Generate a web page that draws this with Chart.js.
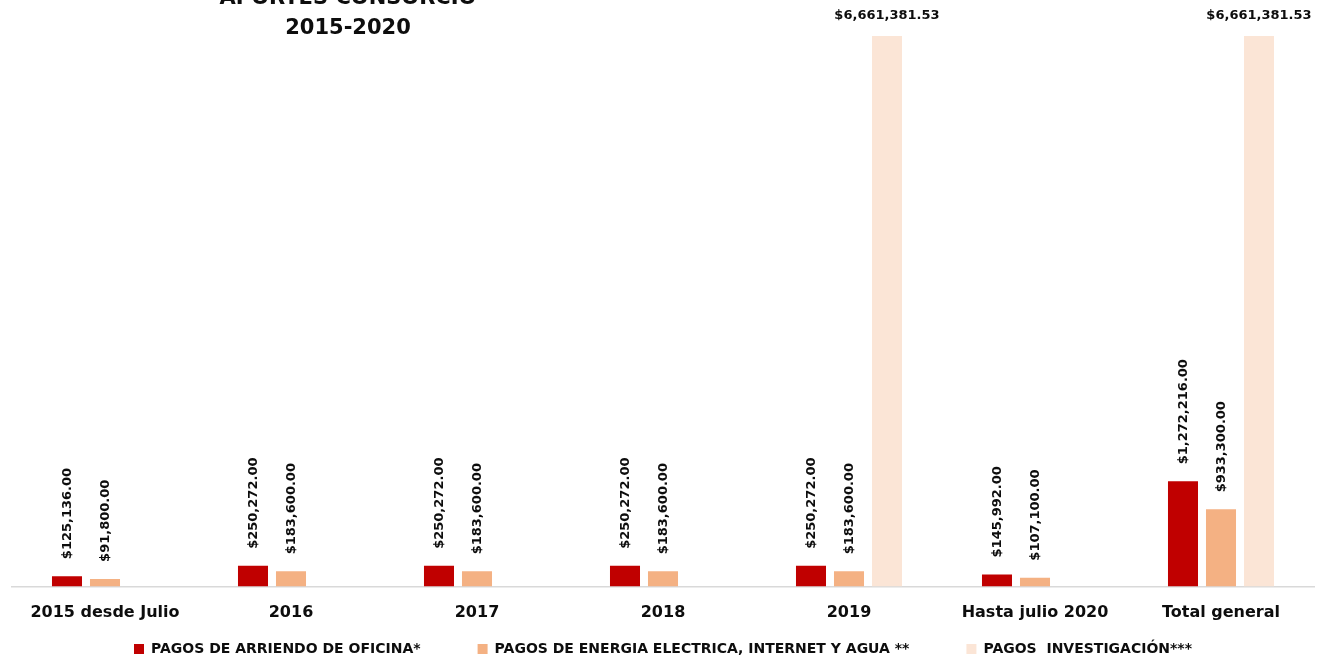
<!DOCTYPE html>
<html>
<head>
<meta charset="utf-8">
<script src="https://cdn.jsdelivr.net/npm/chart.js@4"></script>
<style>
  html, body { margin: 0; padding: 0; background: #ffffff; }
  #wrap { width: 1319px; height: 659px; position: relative; }
</style>
</head>
<body>
<div id="wrap"><canvas id="c"></canvas></div>
<script>
// Contributions of the consortium, 2015-2020
const categories = ['2015 desde Julio', '2016', '2017', '2018', '2019', 'Hasta julio 2020', 'Total general'];
const arriendo   = [125136, 250272, 250272, 250272, 250272, 145992, 1272216];
const servicios  = [91800, 183600, 183600, 183600, 183600, 107100, 933300];
const investigacion = [null, null, null, null, 6661381.53, null, 6661381.53];
const seriesNames = [
  'PAGOS DE ARRIENDO DE OFICINA*',
  'PAGOS DE ENERGIA ELECTRICA, INTERNET Y AGUA **',
  'PAGOS  INVESTIGACIÓN***'
];
const titleLines = ['APORTES CONSORCIO', '2015-2020'];

const FONT = '"DejaVu Sans", sans-serif';
const LEGEND_GAP = 57;

function money(v) {
  return '$' + v.toLocaleString('en-US', { minimumFractionDigits: 2, maximumFractionDigits: 2 });
}

// Value labels: vertical for the first two series, horizontal for the third
const valueLabels = {
  id: 'valueLabels',
  afterDatasetsDraw(chart) {
    const ctx = chart.ctx;
    ctx.save();
    ctx.fillStyle = '#0d0d0d';
    ctx.font = 'bold 13px ' + FONT;
    chart.data.datasets.forEach((ds, di) => {
      const meta = chart.getDatasetMeta(di);
      meta.data.forEach((bar, i) => {
        const v = ds.data[i];
        if (v === null || v === undefined) return;
        const txt = money(v);
        if (di < 2) {
          ctx.save();
          ctx.translate(bar.x + 1, bar.y - 17);
          ctx.rotate(-Math.PI / 2);
          ctx.textAlign = 'left';
          ctx.textBaseline = 'middle';
          ctx.fillText(txt, 0, 0);
          ctx.restore();
        } else {
          ctx.textAlign = 'center';
          ctx.textBaseline = 'middle';
          ctx.fillText(txt, bar.x, bar.y - 20);
        }
      });
    });
    ctx.restore();
  }
};

// Chart heading in the upper left
const heading = {
  id: 'heading',
  afterDraw(chart) {
    const ctx = chart.ctx;
    ctx.save();
    ctx.fillStyle = '#0d0d0d';
    ctx.font = 'bold 21px ' + FONT;
    ctx.textAlign = 'center';
    ctx.textBaseline = 'middle';
    ctx.fillText(titleLines[0], 348, -1);
    ctx.fillText(titleLines[1], 348, 29);
    ctx.restore();
  }
};

// The legend keeps wide horizontal spacing; pull its row up so it sits just under the axis labels
const legendRow = {
  id: 'legendRow',
  afterLayout(chart) {
    const lg = chart.legend;
    if (!lg) return;
    const fontSize = 14;
    const rowCenter = 649;
    lg.top = rowCenter - fontSize / 2 - LEGEND_GAP;
    lg.bottom = chart.height;
    lg.height = lg.bottom - lg.top;
  }
};

new Chart(document.getElementById('c'), {
  type: 'bar',
  data: {
    labels: categories,
    datasets: [
      { label: seriesNames[0], data: arriendo, backgroundColor: '#C00000' },
      { label: seriesNames[1], data: servicios, backgroundColor: '#F4B183' },
      { label: seriesNames[2], data: investigacion, backgroundColor: '#FBE5D6' }
    ]
  },
  options: {
    responsive: true,
    maintainAspectRatio: false,
    animation: false,
    layout: { padding: { top: 36, left: 12, right: 5, bottom: 0.5 } },
    datasets: {
      bar: { categoryPercentage: 0.613, barPercentage: 0.79 }
    },
    scales: {
      x: {
        grid: { display: false, drawTicks: false },
        border: { display: true, color: '#d9d9d9', width: 1.5 },
        ticks: { color: '#0d0d0d', font: { family: FONT, size: 16, weight: 'bold', lineHeight: 1 }, padding: 18 }
      },
      y: {
        display: false,
        min: 0,
        max: 6661381.53
      }
    },
    plugins: {
      legend: {
        position: 'bottom',
        maxHeight: 20,
        labels: {
          boxWidth: 10,
          boxHeight: 10,
          color: '#0d0d0d',
          padding: LEGEND_GAP,
          font: { family: FONT, size: 14, weight: 'bold' }
        }
      },
      tooltip: { enabled: false }
    }
  },
  plugins: [valueLabels, heading, legendRow]
});
</script>
</body>
</html>
